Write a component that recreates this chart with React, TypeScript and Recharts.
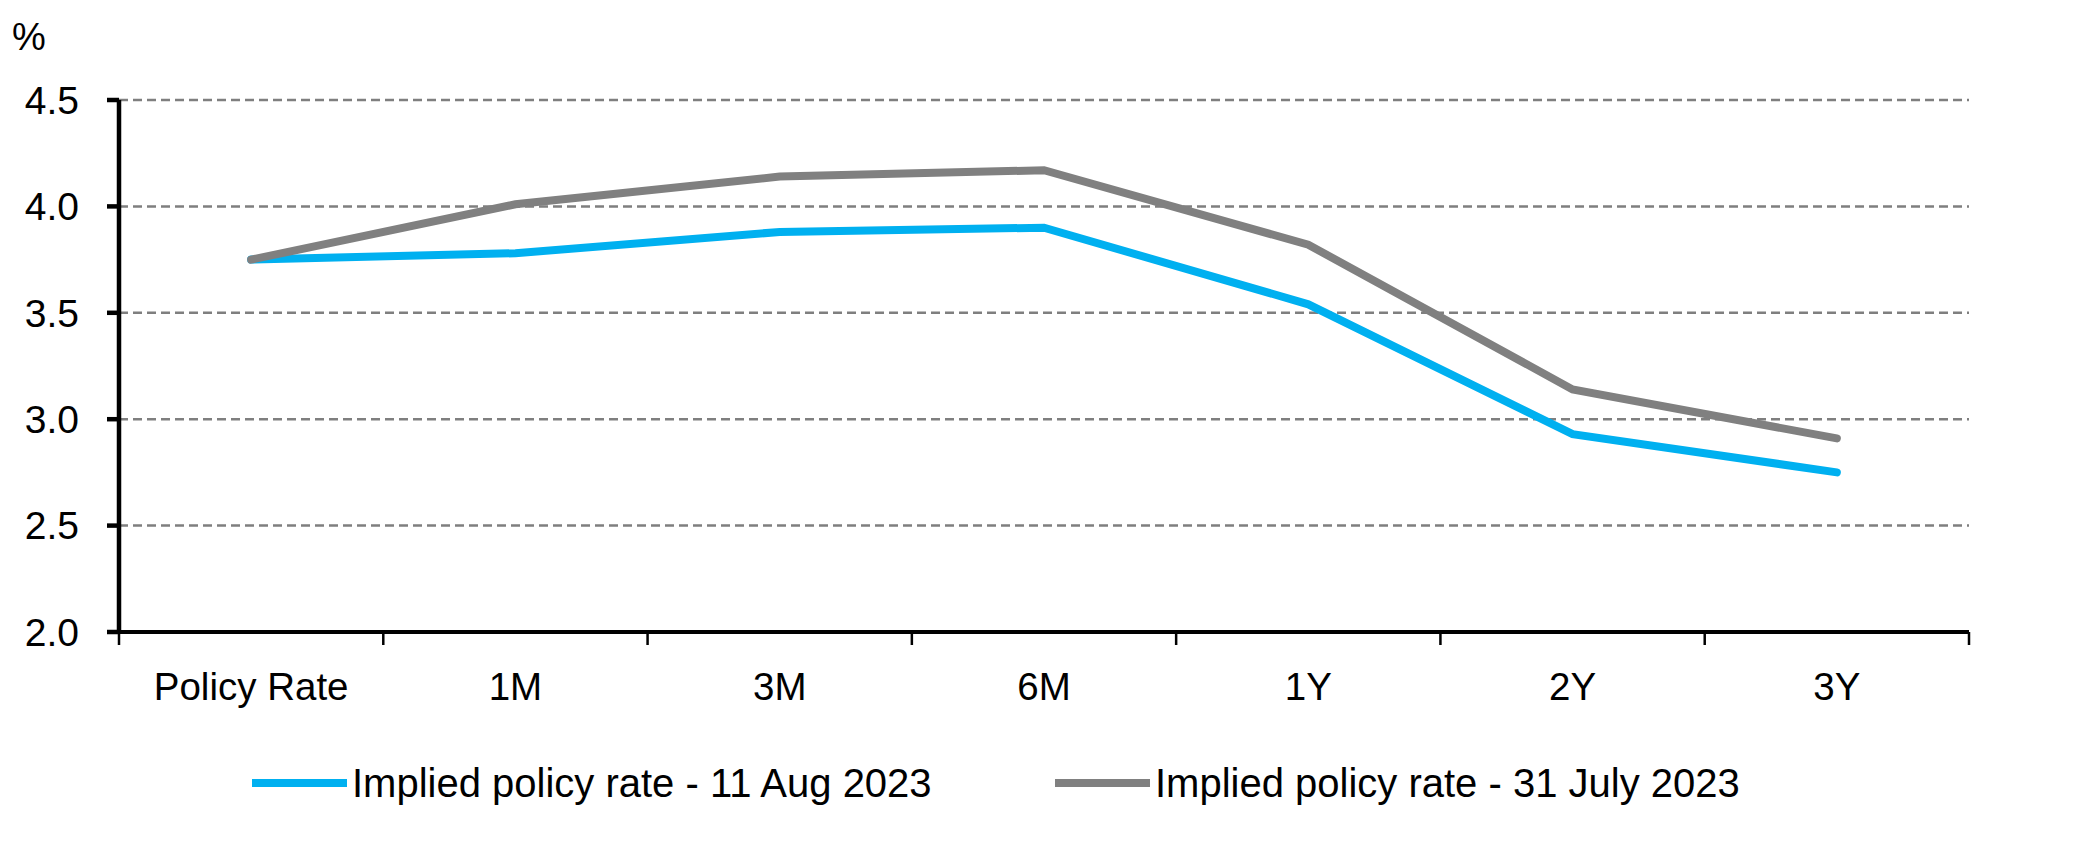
import React from 'react';
import { LineChart, Line, XAxis, YAxis, CartesianGrid, Legend } from 'recharts';

const categories = ['Policy Rate', '1M', '3M', '6M', '1Y', '2Y', '3Y'];
const aug11 = [3.75, 3.78, 3.88, 3.9, 3.54, 2.93, 2.75];
const jul31 = [3.75, 4.01, 4.14, 4.17, 3.82, 3.14, 2.91];
const yTicks = [2.0, 2.5, 3.0, 3.5, 4.0, 4.5];
const seriesNames = ['Implied policy rate - 11 Aug 2023', 'Implied policy rate - 31 July 2023'];
const seriesColors = ['#00B0F0', '#808080'];

const data = categories.map((c, i) => ({ x: i + 0.5, name: c, aug: aug11[i], jul: jul31[i] }));
const xTicks = [0, ...categories.flatMap((_, i) => [i + 0.5, i + 1])];

const FONT = "'Liberation Sans', Arial, sans-serif";

const XTick = (props: any) => {
  const { x, y, payload } = props;
  const v = payload.value;
  if (Number.isInteger(v)) {
    return <line x1={x} x2={x} y1={y} y2={y + 13} stroke="#000" strokeWidth={2.5} />;
  }
  return (
    <text x={x} y={y + 68} textAnchor="middle" fill="#000" fontSize={38.5} fontFamily={FONT}>
      {categories[Math.floor(v)]}
    </text>
  );
};

const LegendContent = () => (
  <div style={{ position: 'relative', width: 2076, height: 111, fontFamily: FONT, fontSize: 40, color: '#000' }}>
    {seriesNames.map((n, i) => (
      <div
        key={n}
        style={{ position: 'absolute', left: i === 0 ? 252 : 1055, top: 51, transform: 'translateY(-50%)', display: 'flex', alignItems: 'center', whiteSpace: 'nowrap' }}
      >
        <div style={{ width: 95, height: 8, background: seriesColors[i], marginRight: 5 }} />
        <span style={{ lineHeight: '46px' }}>{n}</span>
      </div>
    ))}
  </div>
);

export default function App() {
  return (
    <div style={{ position: 'absolute', left: 0, top: 0, width: 2076, height: 843, background: '#fff' }}>
      <div style={{ position: 'absolute', left: 12, top: 18, fontFamily: FONT, fontSize: 38, lineHeight: '38px', color: '#000' }}>%</div>
      <LineChart width={2076} height={843} data={data} margin={{ top: 100, right: 107, left: 19, bottom: 0 }}>
        <CartesianGrid horizontal vertical={false} stroke="#7f7f7f" strokeWidth={2.5} strokeDasharray="9 5" />
        <XAxis
          dataKey="x"
          type="number"
          domain={[0, 7]}
          ticks={xTicks}
          interval={0}
          tickSize={0}
          tickMargin={0}
          tick={<XTick />}
          tickLine={false}
          axisLine={{ stroke: '#000', strokeWidth: 4 }}
          height={100}
        />
        <YAxis
          type="number"
          domain={[2, 4.5]}
          ticks={yTicks}
          interval={0}
          width={100}
          tickSize={12}
          tickMargin={28}
          tickFormatter={(v: number) => v.toFixed(1)}
          tick={{ fill: '#000', fontSize: 39, fontFamily: FONT }}
          tickLine={{ stroke: '#000', strokeWidth: 4.5 }}
          axisLine={{ stroke: '#000', strokeWidth: 4.5 }}
        />
        <Legend verticalAlign="bottom" wrapperStyle={{ left: 0, bottom: 0, width: 2076, height: 111 }} content={<LegendContent />} />
        <Line type="linear" dataKey="aug" name={seriesNames[0]} stroke={seriesColors[0]} strokeWidth={8} dot={false} isAnimationActive={false} strokeLinecap="round" />
        <Line type="linear" dataKey="jul" name={seriesNames[1]} stroke={seriesColors[1]} strokeWidth={8} dot={false} isAnimationActive={false} strokeLinecap="round" />
      </LineChart>
    </div>
  );
}
